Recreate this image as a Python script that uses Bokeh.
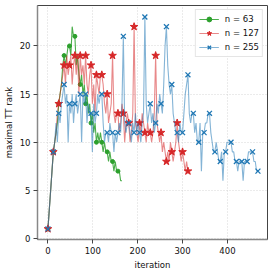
from bokeh.plotting import figure
from bokeh.models import Range1d, FixedTicker, Legend, LegendItem
from bokeh.embed import file_html
from bokeh.resources import INLINE

# iterations (sampled every 3 iterations)
iter_63 = list(range(0, 166, 3))
rank_63 = [1, 3, 5, 7, 9, 10, 11, 12, 14, 15, 16, 18, 19, 18, 19, 20, 20, 19, 22, 21,
           21, 18, 19, 17, 16, 17, 15, 16, 14, 15, 13, 14, 12, 13, 11, 12, 10, 11, 10, 11,
           10, 9, 10, 9, 9, 8, 9, 8, 8, 7, 8, 7, 7, 7, 6, 6]

iter_127 = list(range(0, 313, 3))
rank_127 = [1, 3, 5, 7, 9, 10, 11, 13, 14, 15, 16, 17, 18, 16, 19, 17, 18, 19, 16, 18,
            19, 17, 19, 15, 19, 17, 18, 16, 19, 16, 15, 17, 18, 14, 16, 13, 17, 16, 15, 17,
            17, 16, 14, 13, 15, 12, 13, 14, 19, 13, 12, 13, 13, 11, 12, 14, 13, 10, 12, 13,
            12, 10, 11, 13, 22, 12, 11, 10, 12, 11, 13, 12, 11, 10, 12, 11, 11, 10, 11, 13,
            19, 12, 11, 10, 11, 9, 10, 9, 8, 9, 8, 10, 9, 8, 9, 10, 12, 10, 9, 8,
            9, 8, 7, 8, 7]

iter_255 = list(range(0, 469, 3))
rank_255 = [1, 3, 5, 7, 9, 10, 12, 10, 13, 12, 14, 15, 16, 14, 15, 10, 14, 13, 15, 12,
            14, 15, 13, 14, 15, 10, 15, 14, 15, 12, 14, 13, 13, 9, 14, 12, 13, 15, 14, 15,
            15, 12, 10, 11, 11, 10, 12, 11, 11, 9, 11, 10, 11, 12, 11, 14, 21, 12, 11, 12,
            12, 11, 10, 12, 11, 13, 11, 12, 11, 10, 12, 13, 23, 14, 12, 13, 14, 12, 13, 11,
            12, 14, 13, 15, 14, 13, 16, 20, 22, 18, 16, 15, 16, 13, 12, 11, 11, 10, 12, 11,
            11, 13, 15, 16, 17, 13, 12, 13, 13, 11, 12, 10, 10, 12, 7, 11, 11, 12, 12, 13,
            13, 11, 10, 9, 9, 10, 9, 8, 8, 9, 6, 9, 9, 10, 10, 10, 10, 9, 9, 8,
            8, 7, 8, 8, 8, 6, 8, 8, 8, 9, 9, 9, 9, 8, 8, 7, 7]

labels = ["n = 63", "n = 127", "n = 255"]
x_ticks = [0, 100, 200, 300, 400]
y_ticks = [0, 5, 10, 15, 20]

FONT = "DejaVu Sans"

p = figure(width=271, height=272, output_backend="svg", toolbar_location=None,
           x_range=Range1d(-23.3, 489.3), y_range=Range1d(-0.1, 24.2),
           min_border_left=34, min_border_right=4, min_border_top=5, min_border_bottom=32,
           background_fill_color="white", border_fill_color="white")

p.outline_line_color = "#444444"
p.outline_line_width = 1

for ax in (p.xaxis[0], p.yaxis[0]):
    ax.axis_line_color = "#888888"
    ax.axis_line_width = 1.5
    ax.major_tick_line_color = "#444444"
    ax.major_tick_out = 4
    ax.major_tick_in = 0
    ax.minor_tick_line_color = None
    ax.major_label_text_font = FONT
    ax.major_label_text_font_size = "8.5px"
    ax.major_label_text_color = "#111111"
    ax.major_label_standoff = 3
    ax.axis_label_text_font = FONT
    ax.axis_label_text_font_size = "8.5px"
    ax.axis_label_text_font_style = "normal"
    ax.axis_label_text_color = "#111111"
    ax.axis_label_standoff = 3

p.xaxis.ticker = FixedTicker(ticks=x_ticks)
p.yaxis.ticker = FixedTicker(ticks=y_ticks)
p.xaxis.axis_label = "iteration"
p.yaxis.axis_label = "maximal TT rank"

p.grid.grid_line_color = "#cccccc"
p.grid.grid_line_dash = "1 2"
p.grid.grid_line_width = 0.8

series = [
    (iter_63, rank_63, "#2ca02c", "circle", 4, 0.85),
    (iter_127, rank_127, "#d62728", "star", 8, 0.55),
    (iter_255, rank_255, "#1f77b4", "x", 7, 0.55),
]

items = []
for (xs, ys, color, marker, size, alpha), lab in zip(series, labels):
    lr = p.line(xs, ys, line_color=color, line_width=1.1, line_alpha=alpha)
    mx = xs[::4]
    my = ys[::4]
    if marker == "x":
        sr = p.scatter(mx, my, marker=marker, size=size, line_color=color, line_width=1.3)
    else:
        sr = p.scatter(mx, my, marker=marker, size=size, fill_color=color, line_color=color)
    items.append(LegendItem(label=lab, renderers=[lr, sr]))

legend = Legend(items=items, location="top_right")
legend.label_text_font = FONT
legend.label_text_font_size = "8.5px"
legend.label_text_color = "#111111"
legend.glyph_width = 20
legend.glyph_height = 12
legend.label_height = 12
legend.spacing = 2
legend.padding = 3
legend.margin = 4
legend.label_standoff = 6
legend.border_line_color = "#cccccc"
legend.background_fill_alpha = 0.85
p.add_layout(legend)

open("out.html", "w").write(file_html(p, INLINE))
